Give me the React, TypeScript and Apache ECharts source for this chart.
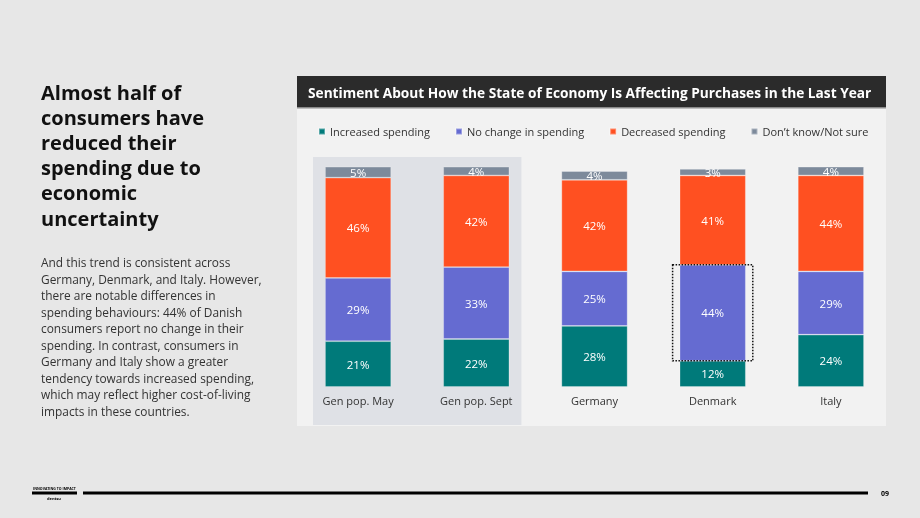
import React, { useEffect, useRef } from "react";
import * as echarts from "echarts";

const categories = ["Gen pop. May", "Gen pop. Sept", "Germany", "Denmark", "Italy"];
const increased = [21, 22, 28, 12, 24];
const noChange = [29, 33, 25, 44, 29];
const decreased = [46, 42, 42, 41, 44];
const dontKnow = [5, 4, 4, 3, 4];
const seriesNames = ["Increased spending", "No change in spending", "Decreased spending", "Don\u2019t know/Not sure"];
const colors = ["#007a7a", "#656bd1", "#ff5021", "#7d8a9b"];
const highlightRange = [[0, 1]];
const denmarkBox = [[3, 12, 56]];

const headingLines = [
  "Almost half of",
  "consumers have",
  "reduced their",
  "spending due to",
  "economic",
  "uncertainty",
];
const bodyLines = [
  "And this trend is consistent across",
  "Germany, Denmark, and Italy. However,",
  "there are notable differences in",
  "spending behaviours: 44% of Danish",
  "consumers report no change in their",
  "spending. In contrast, consumers in",
  "Germany and Italy show a greater",
  "tendency towards increased spending,",
  "which may reflect higher cost-of-living",
  "impacts in these countries.",
];

const FONT = "'Open Sans', sans-serif";
const BAR_RATIO = 0.56;

export default function App() {
  const ref = useRef<HTMLDivElement>(null);
  useEffect(() => {
    if (!ref.current) return;
    const chart = echarts.init(ref.current, undefined, { renderer: "svg" });
    const values = [increased, noChange, decreased, dontKnow];
    const barSeries = values.map((arr, i) => ({
      name: seriesNames[i],
      type: "bar",
      stack: "total",
      z: 3,
      barWidth: "56%",
      data: arr,
      itemStyle: { color: colors[i], borderColor: "rgba(255,255,255,0.35)", borderWidth: 0.8 },
      label: {
        show: true,
        position: "inside",
        color: "#ffffff",
        fontSize: 11.5,
        fontFamily: FONT,
        formatter: (p: any) => `${p.value}%`,
      },
    }));

    const graphics: any[] = [
      { type: "rect", z: -10, shape: { x: 0, y: 0, width: 920, height: 518 }, style: { fill: "#e7e7e7" } },
      { type: "rect", z: -9, shape: { x: 297, y: 76, width: 589, height: 350 }, style: { fill: "#f2f2f2" } },
      { type: "rect", z: -8, shape: { x: 297, y: 76, width: 589, height: 32 }, style: { fill: "#2b2b2b" } },
      { type: "rect", z: -8, shape: { x: 297, y: 107, width: 589, height: 1.5 }, style: { fill: "#8a8a8a" } },
    ];
    headingLines.forEach((t, i) => {
      graphics.push({
        type: "text",
        x: 41,
        y: 92 + i * 25.2,
        style: { text: t, fill: "#111111", font: `bold 20px ${FONT}`, textVerticalAlign: "middle" },
      });
    });
    bodyLines.forEach((t, i) => {
      graphics.push({
        type: "text",
        x: 41,
        y: 262 + i * 16.5,
        style: { text: t, fill: "#333333", font: `11.9px ${FONT}`, textVerticalAlign: "middle" },
      });
    });
    graphics.push(
      { type: "rect", shape: { x: 32, y: 491.5, width: 45, height: 3 }, style: { fill: "#000" } },
      { type: "rect", shape: { x: 83, y: 491.5, width: 785, height: 3 }, style: { fill: "#000" } },
      { type: "text", x: 33, y: 488, style: { text: "INNOVATING TO IMPACT", fill: "#000", font: `bold 3.5px ${FONT}`, textVerticalAlign: "middle" } },
      { type: "text", x: 47, y: 498.5, style: { text: "dentsu", fill: "#000", font: `bold 4px ${FONT}`, textVerticalAlign: "middle" } },
      { type: "text", x: 881, y: 493, style: { text: "09", fill: "#000", font: `bold 7px ${FONT}`, textVerticalAlign: "middle" } }
    );

    chart.setOption({
      animation: false,
      backgroundColor: "transparent",
      graphic: graphics,
      title: {
        text: "Sentiment About How the State of Economy Is Affecting Purchases in the Last Year",
        left: 303,
        top: 80,
        textStyle: { color: "#ffffff", fontSize: 13.7, fontWeight: "bold", fontFamily: FONT },
      },
      legend: {
        data: seriesNames,
        left: 313,
        top: 121,
        icon: "rect",
        itemWidth: 6,
        itemHeight: 6,
        itemGap: 25,
        textStyle: { color: "#333333", fontSize: 11, fontFamily: FONT },
      },
      grid: { left: 299, right: 30, top: 158, bottom: 131 },
      xAxis: {
        type: "category",
        data: categories,
        z: 10,
        axisLine: { show: false },
        axisTick: { show: false },
        axisLabel: { color: "#333333", fontSize: 11, fontFamily: FONT, margin: 8 },
      },
      yAxis: { type: "value", min: 0, max: 105, show: false, splitLine: { show: false } },
      series: [
        {
          type: "custom",
          name: "highlight",
          z: 1,
          silent: true,
          data: highlightRange,
          encode: { x: 0, y: 1 },
          renderItem: (params: any, api: any) => {
            const band = api.size([1, 0])[0];
            const half = (band * BAR_RATIO) / 2 + 12;
            const x0 = api.coord([api.value(0), 0])[0] - half;
            const x1 = api.coord([api.value(1), 0])[0] + half;
            const top = api.coord([0, 105])[1] - 1;
            const bottom = api.coord([0, 0])[1] + 38;
            return {
              type: "rect",
              shape: { x: x0, y: top, width: x1 - x0, height: bottom - top },
              style: { fill: "#dfe1e6" },
            };
          },
        },
        ...barSeries,
        {
          type: "custom",
          name: "box",
          z: 5,
          silent: true,
          data: denmarkBox,
          encode: { x: 0, y: [1, 2] },
          renderItem: (params: any, api: any) => {
            const band = api.size([1, 0])[0];
            const half = (band * BAR_RATIO) / 2 + 7;
            const cx = api.coord([api.value(0), 0])[0];
            const yb = api.coord([api.value(0), api.value(1)])[1];
            const yt = api.coord([api.value(0), api.value(2)])[1];
            return {
              type: "rect",
              shape: { x: cx - half, y: yt, width: half * 2, height: yb - yt },
              style: { fill: "none", stroke: "#111111", lineWidth: 1.5, lineDash: [1.5, 1.5] },
            };
          },
        },
      ],
    });
    return () => chart.dispose();
  }, []);
  return (
    <div
      ref={ref}
      style={{ position: "fixed", left: 0, top: 0, width: 920, height: 518 }}
    />
  );
}
